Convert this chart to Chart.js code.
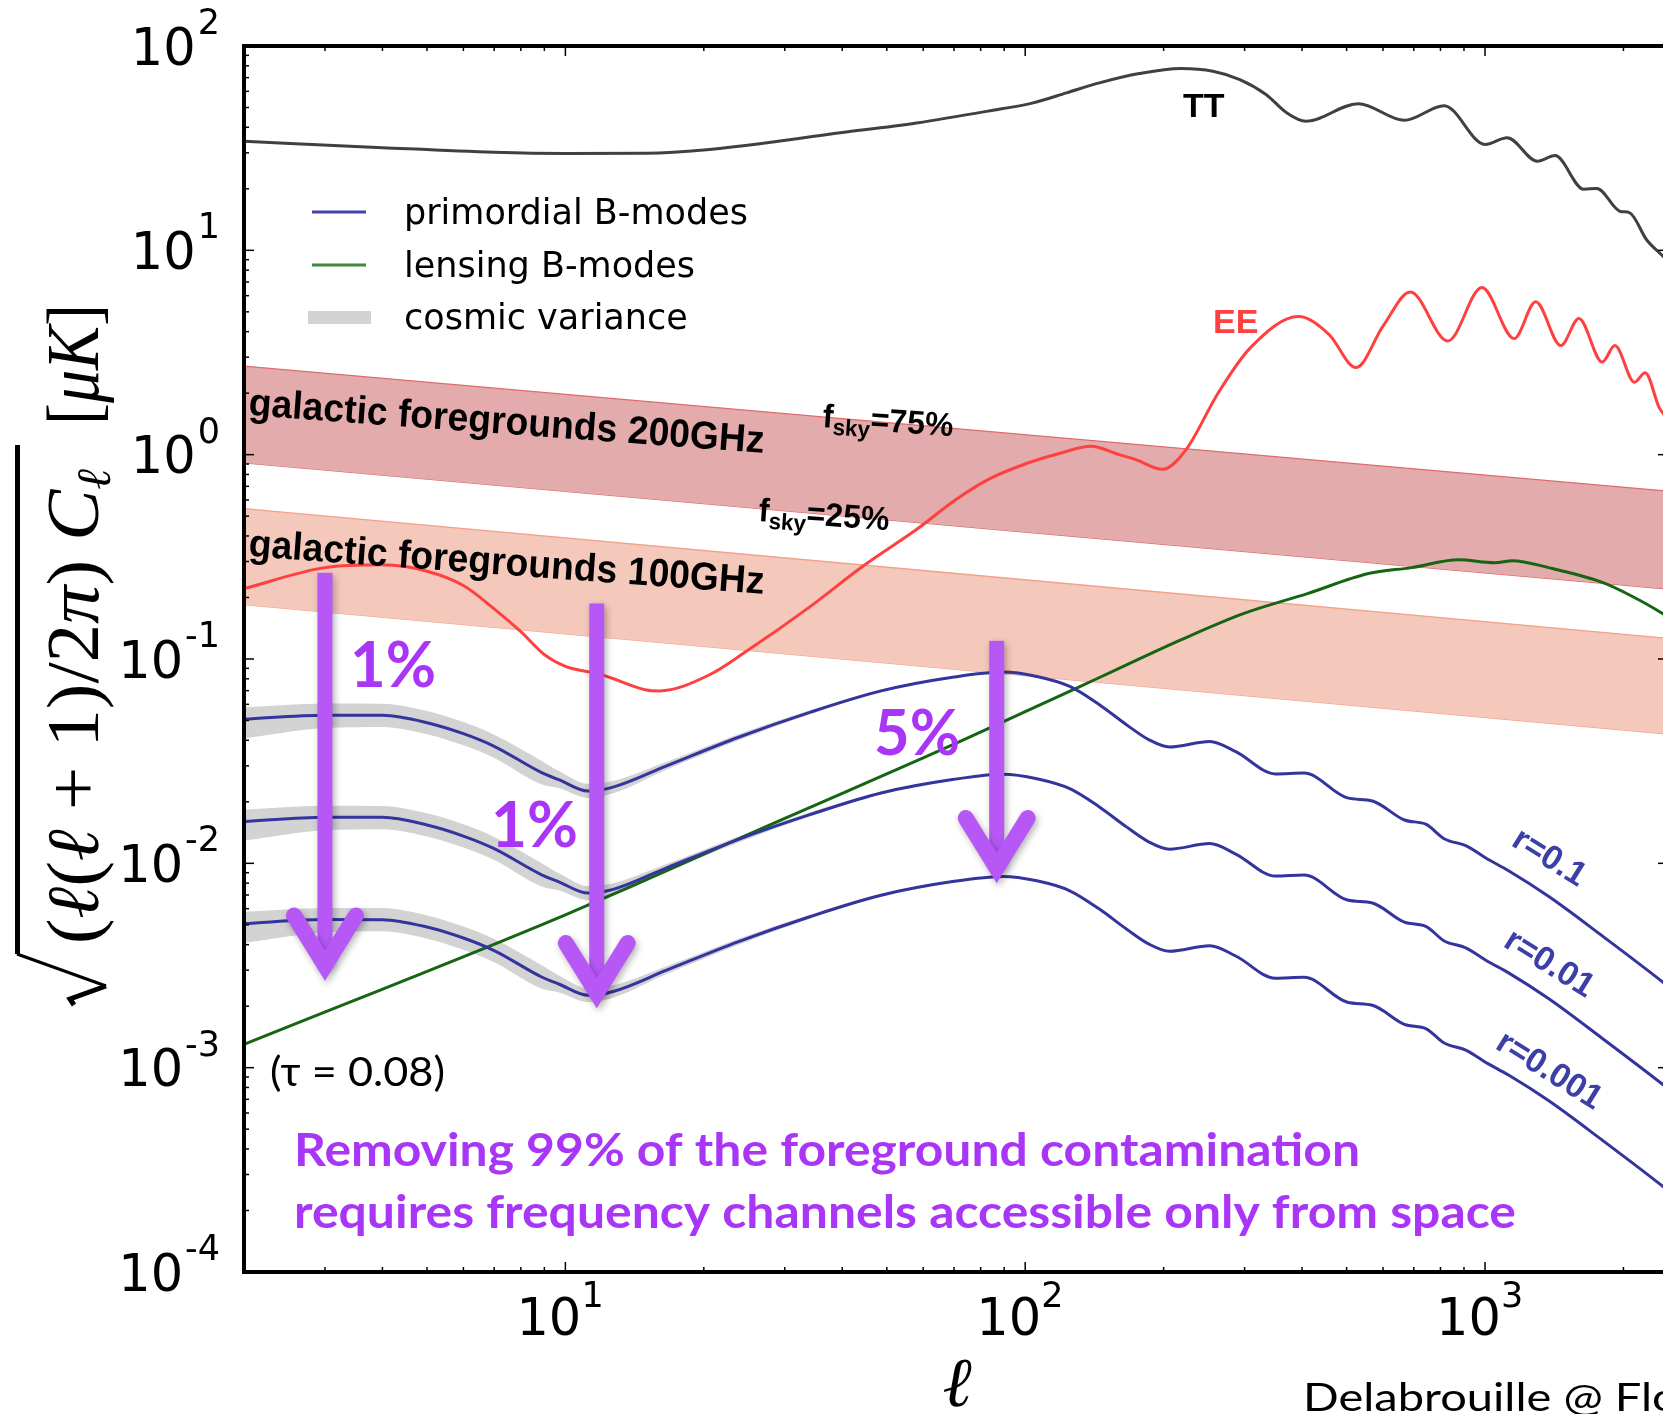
<!DOCTYPE html>
<html>
<head>
<meta charset="utf-8">
<script src="https://cdn.jsdelivr.net/npm/chart.js@4.4.1/dist/chart.umd.min.js"></script>
<style>
  html, body { margin: 0; padding: 0; background: #fff; overflow: hidden; }
  #wrap { width: 1700px; height: 1414px; }
</style>
</head>
<body>
<div id="wrap"><canvas id="cmb" width="1700" height="1414"></canvas></div>
<script>
// --- spectra (sqrt(l(l+1)Cl/2pi), muK) ---
const ELL_TT = [2, 4, 7, 10, 15, 20, 40, 58, 83, 104, 123, 145, 177, 218, 256, 293, 334, 370, 408, 530, 668, 815, 1000, 1117, 1300, 1420, 1640, 1750, 1970, 2060, 2250, 2432, 2500];
const TT = [34.2, 31.8, 30.2, 29.8, 29.9, 31, 37.7, 42, 48, 52.7, 59, 66, 73.3, 77.6, 75.3, 68.5, 57.9, 47.2, 42.8, 52.2, 43.3, 51, 33, 35.6, 27.3, 29.1, 19.9, 20.1, 15.5, 15.3, 11.2, 9.4, 8.8];

const ELL_EE = [2, 3, 4, 5, 6, 7, 8, 9, 10, 12, 15, 16, 20.6, 24.7, 34, 44.5, 58, 70.6, 83, 100, 118, 139, 160, 174, 199, 223, 263, 309, 393, 458, 524, 601, 688, 830, 985, 1157, 1289, 1462, 1600, 1799, 1916, 2115, 2230, 2395, 2500];
const EE = [0.221, 0.28, 0.289, 0.269, 0.229, 0.176, 0.136, 0.105, 0.092, 0.0838, 0.0705, 0.0698, 0.0838, 0.1087, 0.18, 0.286, 0.43, 0.602, 0.755, 0.9, 1.01, 1.1, 1.0, 0.946, 0.848, 1.046, 2.01, 3.34, 4.74, 3.87, 2.67, 4.28, 6.25, 3.6, 6.58, 3.7, 5.6, 3.42, 4.64, 2.84, 3.42, 2.26, 2.52, 1.69, 1.5];

const ELL_LENS = [2, 10, 30, 60, 72, 100, 129, 160, 218, 298, 411, 558, 692, 875, 1049, 1148, 1375, 1800, 2077, 2432, 2500];
const LENS = [0.0013, 0.0056, 0.0166, 0.0328, 0.0394, 0.0552, 0.0718, 0.090, 0.124, 0.1667, 0.209, 0.262, 0.28, 0.306, 0.296, 0.303, 0.28, 0.237, 0.204, 0.167, 0.16];

const ELL_R = [2, 3, 4, 5, 6, 7, 8.9, 9.7, 11.2, 12.7, 16.6, 23.8, 34, 48.6, 69.5, 89.5, 106, 125, 145, 166, 186, 206, 252, 287, 350, 404, 502, 569, 668, 745, 815, 908, 1012, 1125, 1374, 1800, 2432, 2500];
const R_01 = [0.0507, 0.0531, 0.053, 0.0488, 0.0431, 0.0374, 0.0277, 0.0256, 0.0226, 0.0236, 0.030, 0.0414, 0.0548, 0.0698, 0.0814, 0.0863, 0.0821, 0.0734, 0.0597, 0.0477, 0.0402, 0.0371, 0.0395, 0.0352, 0.0274, 0.0277, 0.0209, 0.0202, 0.0163, 0.0155, 0.0132, 0.0122, 0.0105, 0.0092, 0.0069, 0.00441, 0.00263, 0.0025];
const R_001 = [0.0160, 0.0168, 0.0168, 0.0154, 0.0136, 0.0118, 0.00876, 0.0081, 0.00715, 0.00746, 0.0095, 0.0131, 0.0173, 0.0221, 0.0257, 0.0273, 0.02596, 0.02321, 0.01888, 0.01508, 0.01271, 0.01173, 0.01249, 0.0111, 0.00866, 0.00876, 0.00661, 0.00639, 0.00515, 0.0049, 0.00417, 0.00386, 0.00332, 0.00291, 0.00218, 0.00139, 0.00083, 0.00079];
const R_0001 = [0.00507, 0.00531, 0.0053, 0.00488, 0.00431, 0.00374, 0.00277, 0.00256, 0.00226, 0.00236, 0.0030, 0.00414, 0.00548, 0.00698, 0.00814, 0.00863, 0.00821, 0.00734, 0.00597, 0.00477, 0.00402, 0.00371, 0.00395, 0.00352, 0.00274, 0.00277, 0.00209, 0.00202, 0.00163, 0.00155, 0.00132, 0.00122, 0.00105, 0.00092, 0.00069, 0.000441, 0.000263, 0.00025];

// cosmic variance envelopes
const ELL_CV = [2, 3, 4, 5, 6, 7, 8.9, 9.7, 11.2, 12.7, 16.6, 23.8, 34, 48.6, 69.5];
const CV_01_HI = [0.058, 0.0605, 0.0604, 0.0556, 0.0491, 0.0426, 0.0316, 0.0282, 0.0245, 0.0253, 0.0314, 0.0428, 0.0561, 0.0710, 0.0823];
const CV_01_LO = [0.0409, 0.0459, 0.0465, 0.0428, 0.0378, 0.0328, 0.0243, 0.0233, 0.0209, 0.0220, 0.0287, 0.0400, 0.0536, 0.0686, 0.0805];
const CV_001_HI = [0.01834, 0.01913, 0.0191, 0.01758, 0.01553, 0.01347, 0.00999, 0.00892, 0.00775, 0.008, 0.00993, 0.01353, 0.01774, 0.02245, 0.02603];
const CV_001_LO = [0.01293, 0.01451, 0.0147, 0.01353, 0.01195, 0.01037, 0.00768, 0.00737, 0.00661, 0.00696, 0.00908, 0.01265, 0.01695, 0.02169, 0.02546];
const CV_0001_HI = [0.0058, 0.00605, 0.00604, 0.00556, 0.00491, 0.00426, 0.00316, 0.00282, 0.00245, 0.00253, 0.00314, 0.00428, 0.00561, 0.0071, 0.00823];
const CV_0001_LO = [0.00409, 0.00459, 0.00465, 0.00428, 0.00378, 0.00328, 0.00243, 0.00233, 0.00209, 0.0022, 0.00287, 0.004, 0.00536, 0.00686, 0.00805];

// galactic foreground bands (power laws, fsky 75% / 25%)
const ELL_FG = [2, 2500];
const FG200_HI = [2.71, 0.663];
const FG200_LO = [0.911, 0.22];
const FG100_HI = [0.544, 0.1263];
const FG100_LO = [0.1845, 0.0429];

// axes
const X_MIN = 2, X_MAX = 2500, Y_MIN = 1e-4, Y_MAX = 100;
const X_MAJOR = [10, 100, 1000];
const X_EXP = ["1", "2", "3"];
const Y_MAJOR = [1e-4, 1e-3, 1e-2, 1e-1, 1, 10, 100];
const Y_EXP = ["-4", "-3", "-2", "-1", "0", "1", "2"];

// arrows: ell, top value, tip value
const ARROWS = [
  { ell: 3.0, top: 0.264, tip: 0.0027 },
  { ell: 11.7, top: 0.187, tip: 0.00198 },
  { ell: 86.7, top: 0.1227, tip: 0.0081 },
];

const BLUE = "#34349e", GREEN = "#156515", RED = "#ff4040", GREY = "#404040";
const PURPLE = "#a936f7", ARROW_COL = "#b657f6";

const pts = (xs, ys) => xs.map((x, i) => ({ x, y: ys[i] }));

function curve(label, xs, ys, color, order) {
  return {
    label, data: pts(xs, ys), borderColor: color, borderWidth: 3,
    pointRadius: 0, fill: false, cubicInterpolationMode: "monotone", order,
  };
}
function bandEdge(xs, ys, edge, fillColor, fill, order) {
  return {
    data: pts(xs, ys), borderColor: edge, borderWidth: edge ? 1.3 : 0,
    backgroundColor: fillColor, pointRadius: 0, fill,
    cubicInterpolationMode: "monotone", order,
  };
}

// text squeezed / stretched to a given width
function fitText(ctx, text, x, y, width) {
  const w = ctx.measureText(text).width;
  ctx.save();
  ctx.translate(x, y);
  ctx.scale(width / w, 1);
  ctx.fillText(text, 0, 0);
  ctx.restore();
}

// run of differently styled pieces scaled to a target length
function drawRun(ctx, pieces, target) {
  let w = 0;
  pieces.forEach((p) => { ctx.font = p[1]; p.w = ctx.measureText(p[0]).width; w += p.w; });
  ctx.save();
  ctx.scale(target / w, 1);
  let u = 0;
  pieces.forEach((p) => { ctx.font = p[1]; ctx.fillText(p[0], u, p[2] || 0); u += p.w; });
  ctx.restore();
}

function seg(ctx, x0, y0, x1, y1) {
  ctx.beginPath(); ctx.moveTo(x0, y0); ctx.lineTo(x1, y1); ctx.stroke();
}

function drawArrow(ctx, xs, ys, a) {
  const x = xs.getPixelForValue(a.ell);
  const y0 = ys.getPixelForValue(a.top);
  const y1 = ys.getPixelForValue(a.tip);
  ctx.save();
  ctx.shadowColor = "rgba(0,0,0,0.3)";
  ctx.shadowBlur = 7; ctx.shadowOffsetX = 2; ctx.shadowOffsetY = 3;
  ctx.fillStyle = ctx.strokeStyle = ARROW_COL;
  ctx.fillRect(x - 7.5, y0, 15, y1 - y0 - 14);
  ctx.lineWidth = 16; ctx.lineCap = "round"; ctx.lineJoin = "miter";
  ctx.beginPath();
  ctx.moveTo(x - 31, y1 - 64); ctx.lineTo(x, y1 - 14); ctx.lineTo(x + 31, y1 - 64);
  ctx.stroke();
  ctx.restore();
}

function rotText(ctx, text, x, y, deg) {
  ctx.save(); ctx.translate(x, y); ctx.rotate(deg * Math.PI / 180);
  ctx.fillText(text, 0, 0); ctx.restore();
}

const decor = {
  id: "decor",
  afterDraw(chart) {
    const { ctx, chartArea: a, scales } = chart;
    const xs = scales.x, ys = scales.y;
    ctx.save();
    ctx.textAlign = "left"; ctx.textBaseline = "alphabetic";

    // frame + inward ticks
    ctx.strokeStyle = "#000"; ctx.lineWidth = 4;
    ctx.strokeRect(a.left, a.top, a.right - a.left, a.bottom - a.top);
    ctx.lineWidth = 1.5;
    for (let e = 0; e <= 3; e++) for (let k = 1; k <= 9; k++) {
      const v = k * Math.pow(10, e);
      if (v < X_MIN || v > X_MAX) continue;
      const px = xs.getPixelForValue(v), len = k === 1 ? 10 : 5;
      seg(ctx, px, a.bottom, px, a.bottom - len);
      seg(ctx, px, a.top, px, a.top + len);
    }
    for (let e = -4; e <= 1; e++) for (let k = 1; k <= 9; k++) {
      const v = k * Math.pow(10, e);
      const py = ys.getPixelForValue(v), len = k === 1 ? 10 : 5;
      seg(ctx, a.left, py, a.left + len, py);
      seg(ctx, a.right, py, a.right - len, py);
    }

    // tick labels 10^n
    ctx.fillStyle = "#000";
    Y_MAJOR.forEach((v, i) => {
      const py = ys.getPixelForValue(v);
      ctx.font = '35px "DejaVu Sans"';
      const sw = ctx.measureText(Y_EXP[i]).width;
      ctx.fillText(Y_EXP[i], 220 - sw, py - 12);
      ctx.font = '51px "DejaVu Sans"';
      ctx.textAlign = "right";
      ctx.fillText("10", 220 - sw - 2, py + 18.5);
      ctx.textAlign = "left";
    });
    X_MAJOR.forEach((v, i) => {
      const px = xs.getPixelForValue(v);
      ctx.font = '51px "DejaVu Sans"';
      ctx.fillText("10", px - 49, a.bottom + 63);
      ctx.font = '35px "DejaVu Sans"';
      ctx.fillText(X_EXP[i], px + 16, a.bottom + 35);
    });

    // legend
    ctx.lineWidth = 3; ctx.lineCap = "butt";
    ctx.strokeStyle = "#4343b0"; seg(ctx, 312, 212, 366, 212);
    ctx.strokeStyle = "#3d8b3d"; seg(ctx, 312, 265, 366, 265);
    ctx.fillStyle = "#d3d3d3"; ctx.fillRect(308, 311, 63, 13);
    ctx.fillStyle = "#000"; ctx.font = '35px "DejaVu Sans"';
    ctx.fillText("primordial B-modes", 404, 224);
    ctx.fillText("lensing B-modes", 404, 277);
    ctx.fillText("cosmic variance", 404, 329);

    // band labels
    ctx.font = 'bold 39px "Liberation Sans"';
    ctx.save(); ctx.translate(248, 415); ctx.rotate(4.2 * Math.PI / 180);
    fitText(ctx, "galactic foregrounds 200GHz", 0, 0, 517); ctx.restore();
    ctx.save(); ctx.translate(248, 556); ctx.rotate(4.2 * Math.PI / 180);
    fitText(ctx, "galactic foregrounds 100GHz", 0, 0, 517); ctx.restore();

    [[822, 427, "=75%"], [758, 521, "=25%"]].forEach(([x0, y0, t]) => {
      ctx.save(); ctx.translate(x0, y0); ctx.rotate(4 * Math.PI / 180);
      drawRun(ctx, [["f", 'bold 33px "Liberation Sans"'], ["sky", 'bold 23px "Liberation Sans"', 7], [t, 'bold 33px "Liberation Sans"']], 131);
      ctx.restore();
    });

    ctx.font = 'bold 34px "Liberation Sans"';
    ctx.fillText("TT", 1183, 117);
    ctx.fillStyle = RED; ctx.fillText("EE", 1213, 333);

    // r labels
    ctx.fillStyle = "#3c3fa8"; ctx.font = 'bold 34px "Liberation Sans"';
    ctx.textAlign = "center"; ctx.textBaseline = "middle";
    rotText(ctx, "r=0.1", 1549, 858, 32);
    rotText(ctx, "r=0.01", 1549, 964, 32);
    rotText(ctx, "r=0.001", 1549, 1071, 32);
    ctx.textAlign = "left"; ctx.textBaseline = "alphabetic";

    // arrows and percentages
    ARROWS.forEach((ar) => drawArrow(ctx, xs, ys, ar));
    ctx.fillStyle = PURPLE; ctx.font = "bold 64px Lato";
    fitText(ctx, "1%", 350, 687, 86);
    fitText(ctx, "1%", 491, 847, 87);
    fitText(ctx, "5%", 874, 755, 86);

    ctx.font = "bold 46px Lato";
    fitText(ctx, "Removing 99% of the foreground contamination", 294, 1166, 1066);
    fitText(ctx, "requires frequency channels accessible only from space", 294, 1228, 1222);

    ctx.fillStyle = "#000"; ctx.font = "40px Lato";
    fitText(ctx, "(\u03c4 = 0.08)", 270, 1086, 175);

    ctx.font = "38px Lato";
    const dw = ctx.measureText("Delabrouille @ Fl").width;
    ctx.save(); ctx.translate(1303, 1411); ctx.scale(349 / dw, 1);
    ctx.fillText("Delabrouille @ Flo", 0, 0); ctx.restore();

    // x label
    ctx.font = 'italic 70px "Liberation Serif", "DejaVu Serif"';
    ctx.textAlign = "center";
    ctx.fillText("\u2113", 957, 1406);
    ctx.textAlign = "left";

    // y label, rotated
    ctx.save();
    ctx.translate(98, 944); ctx.rotate(-Math.PI / 2);
    const up = '74px "Liberation Serif", "DejaVu Serif"';
    const it = 'italic 74px "Liberation Serif", "DejaVu Serif"';
    const sub = 'italic 48px "Liberation Serif", "DejaVu Serif"';
    drawRun(ctx, [["(", up], ["\u2113", it], ["(", up], ["\u2113", it], [" + ", up], ["1", up], [")", up], ["/", up], ["2", up], ["\u03c0", it], [")", up], [" ", up], ["C", it], ["\u2113", sub, 12]], 475);
    ctx.save(); ctx.translate(519, 0);
    drawRun(ctx, [["[", up], ["\u03bcK", it], ["]", up]], 121);
    ctx.restore();
    ctx.fillRect(-10, -83, 509, 5);
    ctx.strokeStyle = "#000"; ctx.lineWidth = 3; ctx.lineJoin = "miter";
    ctx.beginPath(); ctx.moveTo(-10, -81); ctx.lineTo(-42, 8); ctx.stroke();
    ctx.lineWidth = 5;
    ctx.beginPath(); ctx.moveTo(-42, 8); ctx.lineTo(-55, -28); ctx.lineTo(-61, -24); ctx.stroke();
    ctx.restore();

    ctx.restore();
  },
};

const datasets = [
  bandEdge(ELL_FG, FG200_HI, "#dd6b6b", "#e3abab", "+1", 20),
  bandEdge(ELL_FG, FG200_LO, "#dd6b6b", "#e3abab", false, 20),
  bandEdge(ELL_FG, FG100_HI, "#f2a288", "#f4c8bb", "+1", 20),
  bandEdge(ELL_FG, FG100_LO, "#f2a288", "#f4c8bb", false, 20),
  bandEdge(ELL_CV, CV_01_HI, null, "#d3d3d3", "+1", 10),
  bandEdge(ELL_CV, CV_01_LO, null, "#d3d3d3", false, 10),
  bandEdge(ELL_CV, CV_001_HI, null, "#d3d3d3", "+1", 10),
  bandEdge(ELL_CV, CV_001_LO, null, "#d3d3d3", false, 10),
  bandEdge(ELL_CV, CV_0001_HI, null, "#d3d3d3", "+1", 10),
  bandEdge(ELL_CV, CV_0001_LO, null, "#d3d3d3", false, 10),
  curve("TT", ELL_TT, TT, GREY, 2),
  curve("EE", ELL_EE, EE, RED, 2),
  curve("lensing B-modes", ELL_LENS, LENS, GREEN, 2),
  curve("r=0.1", ELL_R, R_01, BLUE, 1),
  curve("r=0.01", ELL_R, R_001, BLUE, 1),
  curve("r=0.001", ELL_R, R_0001, BLUE, 1),
];

new Chart(document.getElementById("cmb"), {
  type: "line",
  data: { datasets },
  options: {
    responsive: false,
    animation: false,
    devicePixelRatio: 1,
    layout: { padding: { left: 244, top: 46, right: 32, bottom: 142 } },
    plugins: { legend: { display: false }, tooltip: { enabled: false } },
    scales: {
      x: { type: "logarithmic", min: X_MIN, max: X_MAX, display: false },
      y: { type: "logarithmic", min: Y_MIN, max: Y_MAX, display: false },
    },
  },
  plugins: [decor],
});
</script>
</body>
</html>
